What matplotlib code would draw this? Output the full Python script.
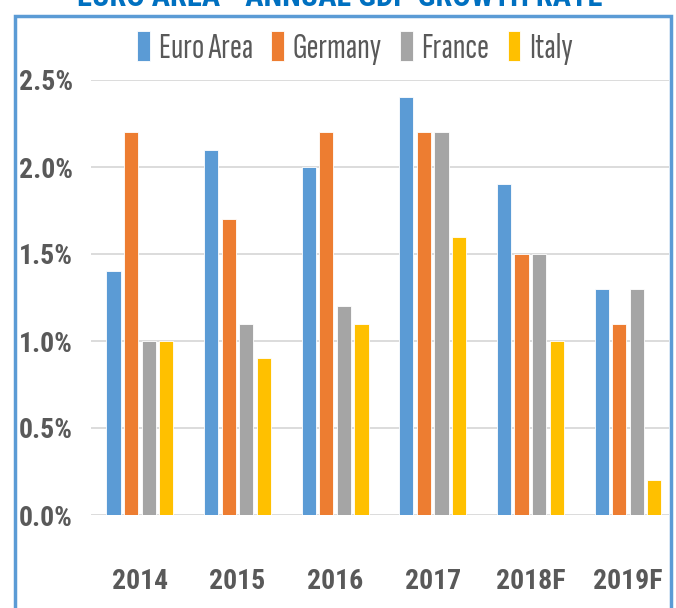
import numpy as np
import matplotlib.pyplot as plt
from matplotlib.patches import Rectangle
from matplotlib.ticker import FuncFormatter

years = ["2014", "2015", "2016", "2017", "2018F", "2019F"]
euro_area = [1.4, 2.1, 2.0, 2.4, 1.9, 1.3]
germany = [2.2, 1.7, 2.2, 2.2, 1.5, 1.1]
france = [1.0, 1.1, 1.2, 2.2, 1.5, 1.3]
italy = [1.0, 0.9, 1.1, 1.6, 1.0, 0.2]

series = [("Euro Area", euro_area, "#5B9BD5"),
          ("Germany", germany, "#ED7D31"),
          ("France", france, "#A5A5A5"),
          ("Italy", italy, "#FFC000")]

plt.rcParams["font.family"] = ["Roboto Condensed", "Archivo Narrow", "DejaVu Sans"]
text_col = "#595959"

fig = plt.figure(figsize=(6.76, 6.08), dpi=100)
ax = fig.add_axes([91 / 676, 1 - 515 / 608, (669 - 91) / 676, (515 - 80) / 608])

x = np.arange(len(years))
step = 0.18
width = 0.145
for i, (name, vals, col) in enumerate(series):
    ax.bar(x + (i - 1.5) * step, vals, width, color=col, label=name,
           edgecolor="white", linewidth=0.6, zorder=3)

ax.set_ylim(0, 2.5)
ax.set_xlim(-0.5, 5.42)
ax.set_yticks(np.arange(0, 2.51, 0.5))
ax.yaxis.set_major_formatter(FuncFormatter(lambda v, p: f"{v:.1f}%"))
ax.set_xticks(x)
ax.set_xticklabels(years)
ax.grid(axis="y", color="#D9D9D9", linewidth=1.3, zorder=0)
for s in ax.spines.values():
    s.set_visible(False)
ax.tick_params(length=0, colors=text_col, labelsize=20)
ax.tick_params(axis="x", pad=38)
ax.tick_params(axis="y", pad=13)
for lab in ax.get_xticklabels() + ax.get_yticklabels():
    lab.set_fontweight("bold")

leg = fig.legend(loc="center", bbox_to_anchor=(355 / 676, 1 - 48 / 608), ncol=4,
                 frameon=False,
                 prop={"family": ["Sofia Sans Extra Condensed", "Roboto Condensed"],
                       "size": 26, "weight": "medium"},
                 handlelength=0.35, handleheight=0.9,
                 handletextpad=0.25, columnspacing=0.5)
for t in leg.get_texts():
    t.set_color(text_col)

fig.patches.append(Rectangle((15 / 676, -0.05), (671 - 15) / 676, 1 - 16 / 608 + 0.05,
                             transform=fig.transFigure, fill=False,
                             edgecolor="#5B9BD5", linewidth=2.5))
fig.text(340 / 676, 1 - (-3) / 608, "EURO AREA - ANNUAL GDP GROWTH RATE",
         ha="center", va="center", fontsize=22, fontweight="bold", color="#0070C0")

fig.savefig("out.png", dpi=100)
